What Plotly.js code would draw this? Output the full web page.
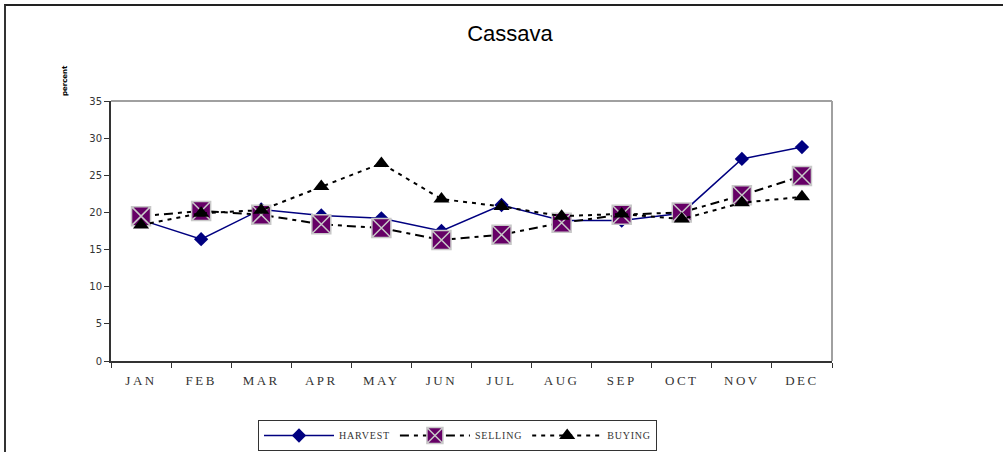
<!DOCTYPE html>
<html>
<head>
<meta charset="utf-8">
<script src="https://cdn.plot.ly/plotly-3.0.1.min.js"></script>
<style>
  html, body { margin: 0; padding: 0; background: #fff; }
  #frame { position: absolute; left: 4px; top: 4px; width: 1010px; height: 460px;
           border-left: 2px solid #333; border-top: 2px solid #222; }
  #chart { position: absolute; left: 0; top: 0; width: 1003px; height: 452px; }
  .xtick text { letter-spacing: 2.5px; }
  .legendtext { letter-spacing: 0.8px; }
</style>
</head>
<body>
<div id="frame"></div>
<div id="chart"></div>
<script>
var months = ["JAN","FEB","MAR","APR","MAY","JUN","JUL","AUG","SEP","OCT","NOV","DEC"];
var harvest = [19.0, 16.4, 20.4, 19.6, 19.2, 17.5, 21.0, 18.9, 18.9, 19.9, 27.2, 28.8];
var selling = [19.5, 20.2, 19.7, 18.4, 17.9, 16.3, 17.0, 18.6, 19.7, 20.0, 22.3, 24.9];
var buying  = [18.3, 19.9, 20.3, 23.5, 26.6, 21.8, 20.8, 19.5, 19.8, 19.1, 21.3, 22.1];
var yTicks = [0, 5, 10, 15, 20, 25, 30, 35];

var traces = [
  { x: months, y: harvest, name: "HARVEST", type: "scatter", mode: "lines+markers",
    line: { color: "#000080", width: 1.5 },
    marker: { symbol: "diamond", size: 11, color: "#000080" } },
  { x: months, y: selling, name: "SELLING", type: "scatter", mode: "lines+markers",
    line: { color: "#000000", width: 2, dash: "9px,5px,4px,5px" },
    marker: { symbol: "square-x", size: 19, color: "#660066",
              line: { color: "#c8c8c8", width: 1.5 } } },
  { x: months, y: buying, name: "BUYING", type: "scatter", mode: "lines+markers",
    line: { color: "#000000", width: 2, dash: "4px,5px" },
    marker: { symbol: "triangle-up", size: 14, color: "#000000" } }
];

var layout = {
  width: 1003, height: 452,
  margin: { l: 111, r: 171, t: 101, b: 91, pad: 0, autoexpand: false },
  paper_bgcolor: "rgba(0,0,0,0)", plot_bgcolor: "#ffffff",
  showlegend: true,
  title: { text: "Cassava", x: 510/1003, xref: "container", y: 1 - 33/452, yref: "container",
           xanchor: "center", yanchor: "middle",
           font: { family: "Liberation Sans, Arial, sans-serif", size: 22, color: "#000" } },
  xaxis: {
    type: "category", categoryorder: "array", categoryarray: months,
    range: [-0.5, 11.5], fixedrange: true, automargin: false,
    showgrid: false, zeroline: false,
    showline: true, linecolor: "#333", linewidth: 2,
    ticks: "outside", tickson: "boundaries", ticklen: 5, tickcolor: "#333", tickwidth: 1,
    ticklabelstandoff: 6,
    tickfont: { family: "Liberation Serif, Times New Roman, serif", size: 13, color: "#333" }
  },
  yaxis: {
    range: [0, 35], tickvals: yTicks, ticktext: yTicks.map(String), automargin: false,
    showgrid: false, zeroline: false,
    showline: true, linecolor: "#333", linewidth: 2,
    ticks: "outside", ticklen: 5, tickcolor: "#333", tickwidth: 1,
    tickfont: { family: "DejaVu Sans, Verdana, sans-serif", size: 10, color: "#333" }
  },
  shapes: [
    { type: "line", xref: "paper", yref: "paper", x0: 0, x1: 1, y0: 1, y1: 1,
      line: { color: "#a0a0a0", width: 2 } },
    { type: "line", xref: "paper", yref: "paper", x0: 1, x1: 1, y0: 0, y1: 1,
      line: { color: "#a0a0a0", width: 2 } }
  ],
  annotations: [
    { text: "<b>percent</b>", textangle: -90, xref: "paper", yref: "paper",
      x: (65 - 111) / 721, y: (361 - 81) / 260, xanchor: "center", yanchor: "middle",
      showarrow: false, font: { family: "DejaVu Sans, sans-serif", size: 7, color: "#000" } }
  ],
  legend: {
    orientation: "h", x: (258 - 111) / 721, y: (361 - 420) / 260,
    xanchor: "left", yanchor: "top",
    bordercolor: "#333", borderwidth: 1, bgcolor: "#fff",
    itemwidth: 70, tracegroupgap: 0,
    font: { family: "Liberation Serif, Times New Roman, serif", size: 10, color: "#333" }
  }
};

Plotly.newPlot("chart", traces, layout, { displayModeBar: false, staticPlot: true });
</script>
</body>
</html>
